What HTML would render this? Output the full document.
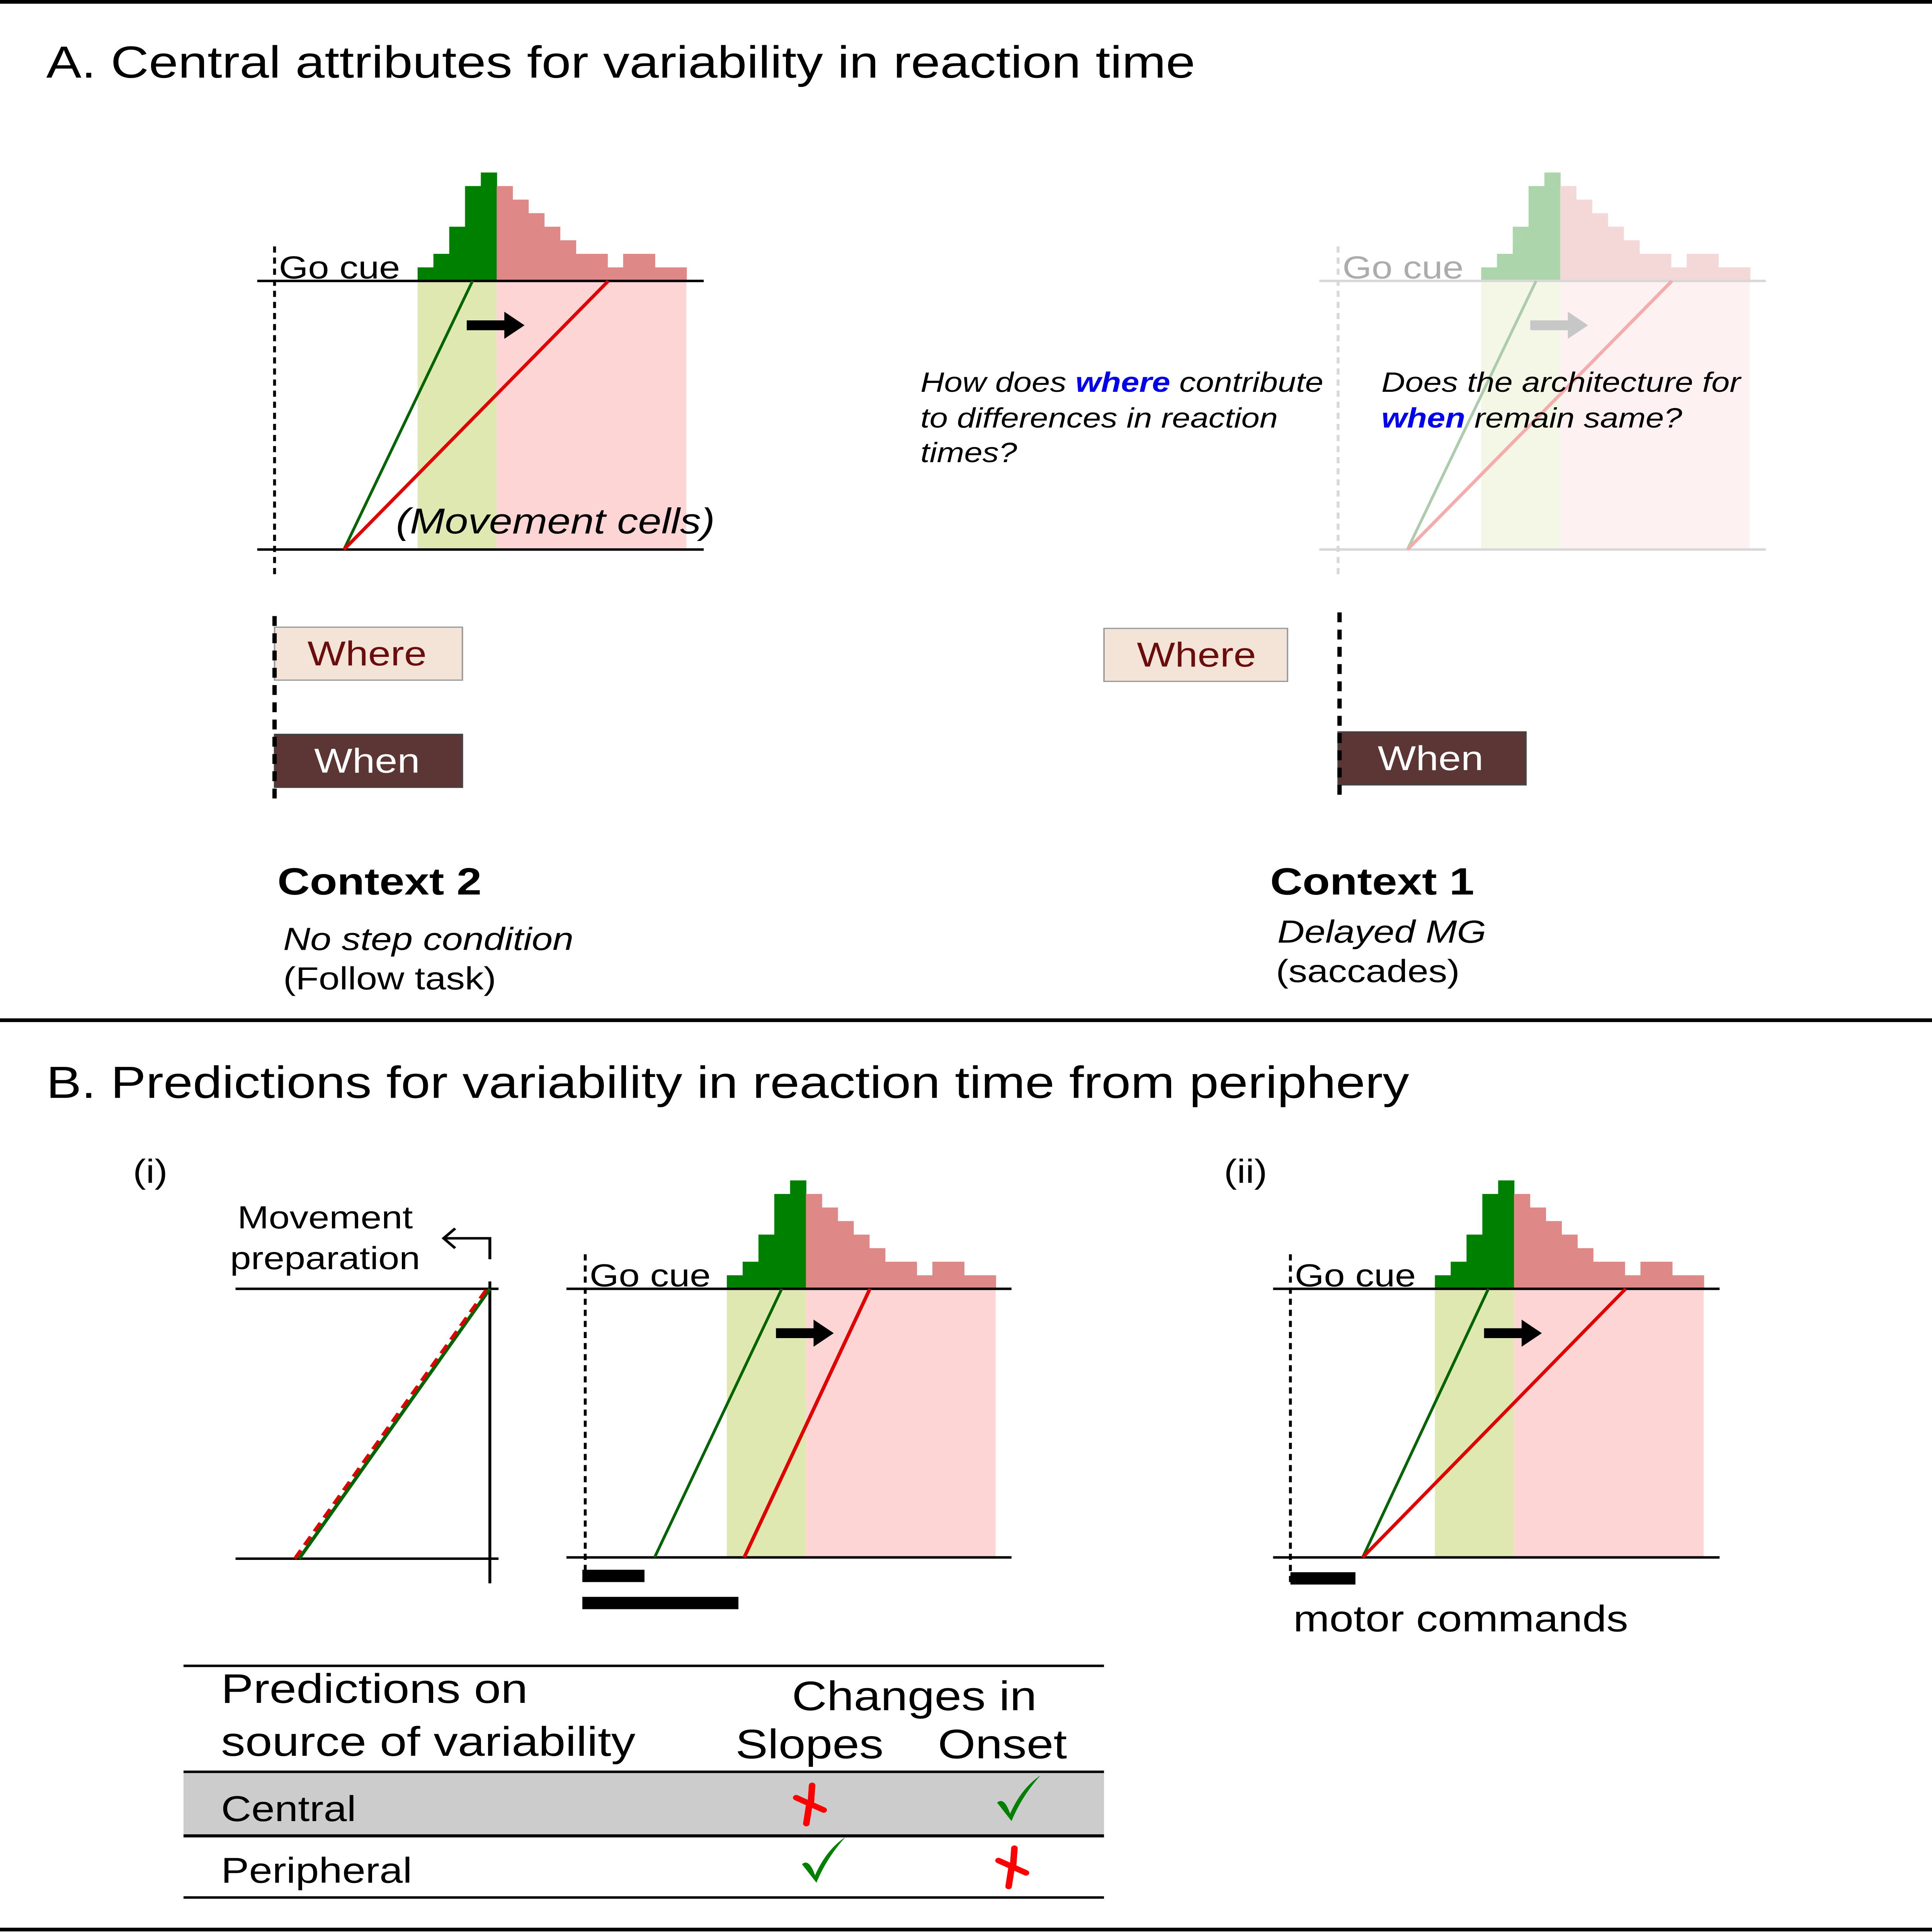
<!DOCTYPE html>
<html><head><meta charset="utf-8"><style>
html,body{margin:0;padding:0;background:#fff;overflow:hidden;width:100%;height:100%;}
svg{display:block;width:100vw;height:100vh;}
text{font-family:"Liberation Sans",Arial,sans-serif;}
</style></head><body>
<svg id="fig" viewBox="0 0 1337 1568" preserveAspectRatio="none" xmlns="http://www.w3.org/2000/svg">
<rect x="0" y="0" width="1337" height="1568" fill="#fff"/>
<line x1="0" y1="1.5" x2="1337" y2="1.5" stroke="#000" stroke-width="3"/>
<line x1="0" y1="828" x2="1337" y2="828" stroke="#000" stroke-width="3"/>
<line x1="0" y1="1566" x2="1337" y2="1566" stroke="#000" stroke-width="3"/>

<text x="32" y="63" font-size="36.5">A. Central attributes for variability in reaction time</text>
<text x="32" y="891" font-size="36.5">B. Predictions for variability in reaction time from periphery</text>

<g id="panels"></g>

<text x="274" y="433" font-size="29" font-style="italic">(Movement cells)</text>
<g>
<rect x="190" y="509" width="130" height="43" fill="#f4e3d7" stroke="#9a9a9a" stroke-width="1"/>
<text x="254" y="540" font-size="28" fill="#6b0d0d" text-anchor="middle">Where</text></g>
<g>
<rect x="190" y="596" width="130" height="43" fill="#5c3535" stroke="#444" stroke-width="1"/>
<text x="254" y="627" font-size="28" fill="#fff" text-anchor="middle">When</text></g>
<line x1="190" y1="500" x2="190" y2="652" stroke="#000" stroke-width="3" stroke-dasharray="8,6"/>
<text x="192" y="726" font-size="31" font-weight="bold">Context 2</text>
<text x="196" y="771" font-size="26" font-style="italic">No step condition</text>
<text x="196" y="803" font-size="26">(Follow task)</text>

<g font-size="22.7" font-style="italic">
<text x="637" y="318">How does <tspan fill="#0000ee" font-weight="bold">where</tspan> contribute</text>
<text x="637" y="347">to differences in reaction</text>
<text x="637" y="375">times?</text></g>
<g font-size="22.7" font-style="italic">
<text x="956" y="318">Does the architecture for</text>
<text x="956" y="347"><tspan fill="#0000ee" font-weight="bold">when</tspan> remain same?</text></g>

<g>
<rect x="764" y="510" width="127" height="43" fill="#f4e3d7" stroke="#9a9a9a" stroke-width="1"/>
<text x="828" y="541" font-size="28" fill="#6b0d0d" text-anchor="middle">Where</text></g>
<g>
<rect x="926" y="594" width="130" height="43" fill="#5c3535" stroke="#444" stroke-width="1"/>
<text x="990" y="625" font-size="28" fill="#fff" text-anchor="middle">When</text></g>
<line x1="927" y1="497" x2="927" y2="650" stroke="#000" stroke-width="3" stroke-dasharray="8,6"/>
<text x="879" y="726" font-size="31" font-weight="bold">Context 1</text>
<text x="884" y="765" font-size="26" font-style="italic">Delayed MG</text>
<text x="883" y="797" font-size="26">(saccades)</text>

<text x="92" y="960" font-size="27">(i)</text>
<text x="847" y="960" font-size="27">(ii)</text>
<text x="225" y="997" font-size="26" text-anchor="middle">Movement</text>
<text x="225" y="1030" font-size="26" text-anchor="middle">preparation</text>
<path d="M339,1022 L339,1005 L307,1005 M315,997 L307,1005 L315,1013" fill="none" stroke="#000" stroke-width="2"/>
<line x1="163" y1="1046" x2="345" y2="1046" stroke="#000" stroke-width="2"/>
<line x1="163" y1="1265" x2="345" y2="1265" stroke="#000" stroke-width="2"/>
<line x1="339" y1="1040" x2="339" y2="1285" stroke="#000" stroke-width="2"/>
<line x1="207" y1="1265" x2="339" y2="1046" stroke="#006400" stroke-width="2.5"/>
<line x1="204" y1="1265" x2="337" y2="1046" stroke="#e00000" stroke-width="2.5" stroke-dasharray="8,5"/>

<rect x="403" y="1274" width="43" height="10" fill="#000"/>
<rect x="403" y="1296" width="108" height="10" fill="#000"/>
<rect x="893" y="1276" width="45" height="10" fill="#000"/>
<text x="895" y="1324" font-size="30">motor commands</text>

<g>
<rect x="127" y="1439" width="637" height="51" fill="#cccccc"/>
<line x1="127" y1="1352" x2="764" y2="1352" stroke="#000" stroke-width="2"/>
<line x1="127" y1="1438" x2="764" y2="1438" stroke="#000" stroke-width="2"/>
<line x1="127" y1="1490" x2="764" y2="1490" stroke="#000" stroke-width="2.5"/>
<line x1="127" y1="1540" x2="764" y2="1540" stroke="#000" stroke-width="2"/>
<text x="153" y="1382" font-size="33.5">Predictions on</text>
<text x="153" y="1425" font-size="33.5">source of variability</text>
<text x="548" y="1388" font-size="33.5">Changes in</text>
<text x="509" y="1427" font-size="33.5">Slopes</text>
<text x="649" y="1427" font-size="33.5">Onset</text>
<text x="153" y="1478" font-size="29">Central</text>
<text x="153" y="1528" font-size="29">Peripheral</text>
</g>
<g id="marks"></g>
</svg>
<script>
const greenCounts = [1, 2, 4, 7, 8];
const redCounts = [7, 6, 5, 4, 3, 2, 2, 1, 2, 2, 1, 1];
const NS = "http://www.w3.org/2000/svg";
const binW = 186 / 17, unitH = 11;
function el(tag, attrs, parent) {
  const e = document.createElementNS(NS, tag);
  for (const k in attrs) e.setAttribute(k, attrs[k]);
  parent.appendChild(e);
  return e;
}
function panel(p) {
  const g = el('g', {opacity: p.op}, document.getElementById('panels'));
  
  
  const nG = greenCounts.length, total = nG + redCounts.length;
  const split = p.hx + nG * binW, end = p.hx + total * binW;
  const bottom = p.by + 218;
  const gs = el('rect', {x: p.hx, y: p.by, width: split - p.hx, height: 218, fill: '#dfe8b0'}, g);
  
  
  const rs = el('rect', {x: split, y: p.by, width: end - split, height: 218, fill: '#fdd5d5'}, g);
  
  
  greenCounts.forEach((c, i) => {
    const b = el('rect', {x: p.hx + i * binW, y: p.by - c * unitH, width: binW + 0.3, height: c * unitH, fill: '#008000'}, g);
    
    
  });
  redCounts.forEach((c, i) => {
    const b = el('rect', {x: split + i * binW, y: p.by - c * unitH, width: binW + 0.3, height: c * unitH, fill: '#de8888'}, g);
    
    
  });
  const lc = p.op < 1 ? '#888' : '#000';
  const t = el('line', {x1: p.x0, y1: p.by, x2: p.x1, y2: p.by, stroke: lc, 'stroke-width': 2}, g);
  
  
  const bl = el('line', {x1: p.x0, y1: bottom, x2: p.x1, y2: bottom, stroke: lc, 'stroke-width': 2}, g);
  
  
  const d = el('line', {x1: p.dx, y1: p.by - 28, x2: p.dx, y2: bottom + 21, stroke: lc, 'stroke-width': 2, 'stroke-dasharray': '5,4'}, g);
  
  
  const tx = el('text', {x: p.dx + 3, y: p.by - 2, 'font-size': 26}, g);
  tx.textContent = 'Go cue';
  
  
  const gl = el('line', {x1: p.gs, y1: bottom, x2: p.ge, y2: p.by, stroke: '#006400', 'stroke-width': 2}, g);
  
  
  const rl = el('line', {x1: p.rs, y1: bottom, x2: p.re, y2: p.by, stroke: '#e00000', 'stroke-width': 2.5}, g);
  
  
  const ay = p.by + 36, ax = p.ax;
  const ar = el('path', {d: `M${ax},${ay - 4} L${ax + 26},${ay - 4} L${ax + 26},${ay - 11} L${ax + 40},${ay} L${ax + 26},${ay + 11} L${ax + 26},${ay + 4} L${ax},${ay + 4} Z`, fill: p.op < 1 ? '#555' : '#000'}, g);
  
  
}
panel({name: 'context-2-accumulator', hx: 289, by: 228, x0: 178, x1: 487, dx: 190, gs: 238, ge: 327, rs: 238, re: 421, ax: 323, op: 1});
panel({name: 'context-1-accumulator', hx: 1025, by: 228, x0: 913, x1: 1222, dx: 926, gs: 974, ge: 1063, rs: 974, re: 1157, ax: 1059, op: 0.32});
panel({name: 'peripheral-onset-panel', hx: 503, by: 1046, x0: 392, x1: 700, dx: 405, gs: 453, ge: 541, rs: 515, re: 602, ax: 537, op: 1});
panel({name: 'central-slope-panel', hx: 993, by: 1046, x0: 881, x1: 1190, dx: 893, gs: 943, ge: 1030, rs: 943, re: 1125, ax: 1027, op: 1});

const mg = document.getElementById('marks');
function check(x, y, name) {
  const c = el('path', {d: `M${x - 15},${y} Q${x - 10},${y - 5} ${x - 6},${y + 9} Q${x + 2},${y - 12} ${x + 15},${y - 22} Q${x + 2},${y - 5} ${x - 5},${y + 15} Z`, fill: '#008000'}, mg);
  
  
}
function cross(x, y, name) {
  const c = el('path', {d: `M${x + 2},${y - 15} L${x + 1},${y + 1} M${x - 9},${y - 5} L${x + 10},${y + 5} M${x},${y + 1} L${x - 2},${y + 16}`, stroke: '#ff0000', 'stroke-width': 4.5, 'stroke-linecap': 'round', fill: 'none'}, mg);
  
  
}
cross(560, 1464, 'central-slope-cross');
check(705, 1463, 'central-onset-check');
check(570, 1513, 'peripheral-slope-check');
cross(700, 1515, 'peripheral-onset-cross');
</script>
</body></html>
